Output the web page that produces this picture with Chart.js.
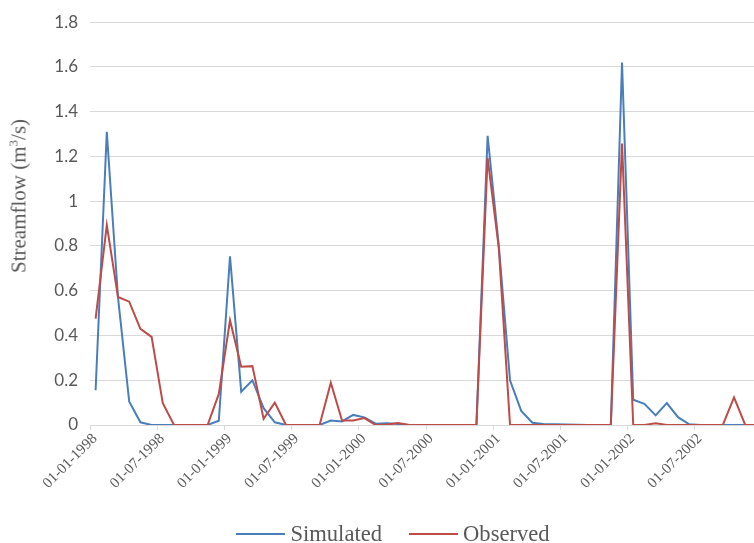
<!DOCTYPE html>
<html>
<head>
<meta charset="utf-8">
<script src="https://cdn.jsdelivr.net/npm/chart.js@4.4.0/dist/chart.umd.min.js"></script>
<style>
  html, body { margin: 0; padding: 0; background: #fff; width: 754px; height: 543px; overflow: hidden; }
  #wrap { position: relative; width: 786px; height: 543px; }
  #yTitle {
    position: absolute; left: 19px; top: 196px;
    transform: translate(-50%, -50%) rotate(-90deg);
    font-family: "Liberation Serif", serif; font-size: 21px; color: #595959; white-space: nowrap;
  }
  #yTitle sup { font-size: 13px; vertical-align: 8px; line-height: 0; }
  #legend {
    position: absolute; left: 0; width: 786px; top: 520px; height: 28px;
    display: flex; justify-content: center; align-items: center;
    font-family: "Liberation Serif", serif; font-size: 22.6px; color: #595959;
  }
  .item { display: flex; align-items: center; margin: 0 13.5px; }
  .swatch { width: 49px; height: 2px; margin-right: 5px; }
</style>
</head>
<body>
<div id="wrap">
  <canvas id="flowChart"></canvas>
  <div id="yTitle">Streamflow (m<sup>3</sup>/s)</div>
  <div id="legend"></div>
</div>
<script>
// Monthly streamflow, Jan 1998 - Dec 2002 (one value per month)
const simulated = [
  0.155, 1.31, 0.57, 0.105, 0.012, 0, 0, 0, 0, 0, 0, 0.019,
  0.754, 0.149, 0.2, 0.075, 0.012, 0, 0, 0, 0, 0.02, 0.016, 0.045,
  0.034, 0.006, 0.008, 0.005, 0, 0, 0, 0, 0, 0, 0, 1.292,
  0.8, 0.2, 0.063, 0.01, 0.005, 0.003, 0.002, 0.001, 0, 0, 0, 1.62,
  0.113, 0.095, 0.043, 0.098, 0.035, 0.003, 0, 0, 0, 0, 0, 0,
];
const observed = [
  0.475, 0.893, 0.572, 0.551, 0.43, 0.394, 0.097, 0, 0, 0, 0, 0.139,
  0.468, 0.26, 0.263, 0.028, 0.1, 0, 0, 0, 0, 0.189, 0.02, 0.02,
  0.031, 0, 0.002, 0.009, 0, 0, 0, 0, 0, 0, 0, 1.194,
  0.79, 0, 0, 0, 0, 0, 0, 0, 0, 0, 0, 1.258,
  0, 0, 0.008, 0, 0, 0, 0, 0, 0, 0.123, 0, 0,
];
const xTickLabels = [
  "01-01-1998", "01-07-1998", "01-01-1999", "01-07-1999", "01-01-2000",
  "01-07-2000", "01-01-2001", "01-07-2001", "01-01-2002", "01-07-2002",
];
const seriesNames = ["Simulated", "Observed"];
const seriesColors = ["#4a7ebb", "#be4b48"];

const monthsPerTick = 6;
const gridColor = "#d9d9d9";
const textColor = "#595959";

// points sit in the middle of each month (Excel date axis style)
const toPoints = (values) => values.map((v, i) => ({ x: i + 0.5, y: v }));

new Chart(document.getElementById("flowChart"), {
  type: "line",
  data: {
    datasets: [
      {
        label: seriesNames[0],
        data: toPoints(simulated),
        borderColor: seriesColors[0],
        borderWidth: 2,
        pointRadius: 0,
        tension: 0,
        order: 1,
      },
      {
        label: seriesNames[1],
        data: toPoints(observed),
        borderColor: seriesColors[1],
        borderWidth: 2,
        pointRadius: 0,
        tension: 0,
        order: 0,
      },
    ],
  },
  options: {
    responsive: true,
    maintainAspectRatio: false,
    animation: false,
    layout: { padding: { top: 20, right: 0, left: 0, bottom: 0 } },
    plugins: {
      legend: { display: false },
      tooltip: { enabled: false },
    },
    scales: {
      x: {
        type: "linear",
        min: 0,
        max: 62.14,
        afterBuildTicks: (scale) => {
          scale.ticks = xTickLabels.map((_, i) => ({ value: i * monthsPerTick }));
        },
        afterFit: (scale) => {
          scale.height = 118;
        },
        grid: {
          drawOnChartArea: false,
          drawTicks: true,
          tickLength: 5,
          color: gridColor,
        },
        border: { display: true, color: gridColor, width: 1 },
        ticks: {
          autoSkip: false,
          minRotation: 45,
          maxRotation: 45,
          padding: 0,
          labelOffset: 5,
          color: textColor,
          font: { family: "Liberation Serif", size: 15 },
          callback: (value) => xTickLabels[Math.round(value / monthsPerTick)],
        },
      },
      y: {
        min: 0,
        max: 1.8,
        afterFit: (scale) => {
          scale.width = 90;
        },
        grid: {
          color: gridColor,
          lineWidth: 1,
          drawTicks: false,
        },
        border: { display: false },
        ticks: {
          stepSize: 0.2,
          padding: 12,
          color: textColor,
          font: { family: "Lato", size: 17 },
          callback: (value) => String(Number(value.toFixed(1))),
        },
      },
    },
  },
});

// legend drawn as html below the plot
const legendEl = document.getElementById("legend");
seriesNames.forEach((name, i) => {
  const item = document.createElement("div");
  item.className = "item";
  item.innerHTML = `<span class="swatch" style="background:${seriesColors[i]}"></span><span>${name}</span>`;
  legendEl.appendChild(item);
});
</script>
</body>
</html>
